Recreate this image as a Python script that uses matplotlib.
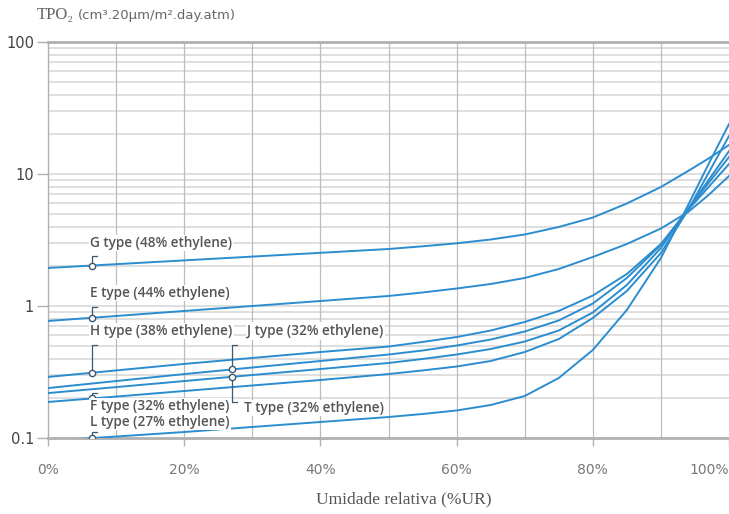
import numpy as np
import matplotlib
matplotlib.use("Agg")
import matplotlib.pyplot as plt
from matplotlib.ticker import FixedLocator, NullFormatter

# relative humidity (%) and oxygen transmission rate per grade
rh = [0, 10, 20, 30, 40, 50, 55, 60, 65, 70, 75, 80, 85, 90, 94, 97, 100]
g_type = [1.941, 2.074, 2.216, 2.367, 2.529, 2.703, 2.833, 2.985, 3.19, 3.48, 3.968,
          4.68, 5.977, 7.97, 10.54, 13.1, 16.59]
e_type = [0.770, 0.840, 0.917, 1.0, 1.091, 1.191, 1.266, 1.357, 1.468, 1.630, 1.907,
          2.351, 2.949, 3.864, 5.153, 6.934, 9.656]
h_type = [0.290, 0.325, 0.364, 0.404, 0.448, 0.493, 0.534, 0.582, 0.652, 0.757, 0.917,
          1.20, 1.747, 2.949, 5.34, 7.97, 11.9]
j_type = [0.239, 0.270, 0.305, 0.342, 0.383, 0.429, 0.460, 0.502, 0.557, 0.641, 0.777,
          1.044, 1.63, 2.90, 5.43, 8.55, 13.45]
t_type = [0.219, 0.243, 0.270, 0.300, 0.333, 0.370, 0.397, 0.429, 0.472, 0.538, 0.652,
          0.893, 1.443, 2.75, 5.43, 9.0, 14.9]
f_type = [0.1875, 0.206, 0.227, 0.250, 0.275, 0.305, 0.325, 0.348, 0.383, 0.448, 0.562,
          0.811, 1.30, 2.52, 5.34, 10.2, 19.4]
l_type = [0.0949, 0.1026, 0.111, 0.1212, 0.1322, 0.1442, 0.152, 0.1616, 0.1778, 0.208,
          0.2848, 0.464, 0.933, 2.31, 5.82, 11.9, 23.9]

series = {"G": g_type, "E": e_type, "H": h_type, "J": j_type,
          "T": t_type, "F": f_type, "L": l_type}
labels = {"G": "G type (48% ethylene)", "E": "E type (44% ethylene)",
          "H": "H type (38% ethylene)", "J": "J type (32% ethylene)",
          "T": "T type (32% ethylene)", "F": "F type (32% ethylene)",
          "L": "L type (27% ethylene)"}
x_ticks = [0, 20, 40, 60, 80, 100]
x_ticklabels = ["0%", "20%", "40%", "60%", "80%", "100%"]
y_ticks = [0.1, 1, 10, 100]
y_ticklabels = ["0.1", "1", "10", "100"]

W, H = 729, 514
fig = plt.figure(figsize=(W / 100, H / 100), dpi=100)
ax = fig.add_axes([48 / W, 1 - 438 / H, 681 / W, 396 / H])
ax.set_yscale("log")
ax.set_xlim(0, 100)
ax.set_ylim(0.1, 100)

# grid
minor = [m * 10.0 ** d for d in (-1, 0, 1) for m in range(2, 10)]
for v in minor + [1, 10]:
    ax.axhline(v, color="#d9d9d9", lw=1.2, zorder=0)
for v in range(10, 100, 10):
    ax.axvline(v, color="#bcbcbc", lw=0.9, zorder=0)

blue = "#2b8dcf"
for k, vals in series.items():
    ax.plot(rh, vals, color=blue, lw=1.4, zorder=3)

ax.spines["right"].set_visible(False)
ax.spines["top"].set_color("#b0b0b0")
ax.spines["top"].set_linewidth(2)
ax.spines["bottom"].set_color("#b0b0b0")
ax.spines["bottom"].set_linewidth(2)
ax.spines["left"].set_color("#b0b0b0")
ax.spines["left"].set_linewidth(1)

ax.xaxis.set_major_locator(FixedLocator(x_ticks))
ax.set_xticklabels(x_ticklabels)
ax.yaxis.set_major_locator(FixedLocator(y_ticks))
ax.set_yticklabels(y_ticklabels)
ax.yaxis.set_minor_locator(FixedLocator([]))
ax.yaxis.set_minor_formatter(NullFormatter())
ax.tick_params(axis="x", length=6, width=1, color="#b0b0b0", pad=12,
               labelsize=10, labelcolor="#777777")
ax.tick_params(axis="y", length=8, width=1, color="#b0b0b0", pad=2,
               labelsize=10.5, labelcolor="#444444")
ax.get_xticklabels()[-1].set_ha("right")

# axis titles
fig.text(37 / W, 1 - 15 / H, "TPO\u2082", family="Liberation Serif", fontsize=12,
         color="#666666", va="center", ha="left")
fig.text(78 / W, 1 - 15 / H, "(cm\u00b3.20\u03bcm/m\u00b2.day.atm)", family="DejaVu Sans",
         fontsize=9.5, color="#666666", va="center", ha="left")
fig.text(404 / W, 1 - 499 / H, "Umidade relativa (%UR)", family="Liberation Serif",
         fontsize=12.5, color="#555555", va="center", ha="center")

# leaders: (key, x on curve, vertical offset px, label position px)
lead = [("G", 6.5, 10, (90, 243)), ("E", 6.5, 11, (90, 293)),
        ("H", 6.5, 28, (90, 331)), ("F", 6.5, 5, (90, 406)),
        ("L", 6.5, 6, (90, 422)), ("J", 27, 24, (247, 331)),
        ("T", 27, -25, (244, 408))]
fig.canvas.draw()
inv = ax.transData.inverted()
dark = "#3d5870"
for k, xc, dy, (tx, ty) in lead:
    yc = 10 ** np.interp(xc, rh, np.log10(series[k]))
    px, py = ax.transData.transform((xc, yc))
    d = inv.transform([(px, py), (px, py + dy), (px + 5, py + dy)])
    ax.plot(d[:, 0], d[:, 1], color=dark, lw=0.9, zorder=4, clip_on=False)
    ax.plot([xc], [yc], "o", ms=4.5, mfc="white", mec=dark, mew=1.0, zorder=5)
    fig.text(tx / W, 1 - ty / H, labels[k], family="Open Sans", fontweight="semibold",
             fontsize=9.8, color="#555555", va="center", ha="left",
             bbox=dict(boxstyle="square,pad=0.1", fc="white", ec="none"), zorder=6)

fig.savefig("out.png", dpi=100)
